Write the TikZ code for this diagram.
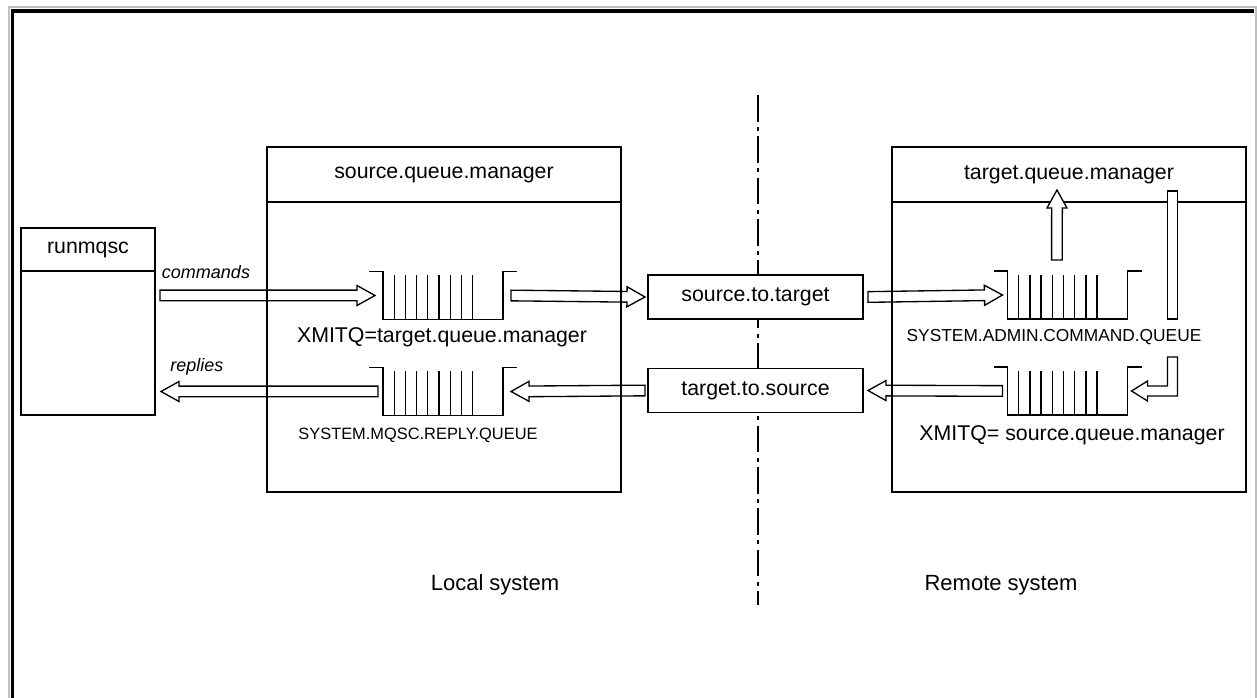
\documentclass[tikz,border=0pt]{standalone}
\usepackage{fontspec}
\setmainfont{Liberation Sans}
\usetikzlibrary{calc,positioning}

\tikzset{every picture/.style={line width=1pt}}
\tikzset{
	hdr/.style={draw, fill=white, inner sep=0pt, outer sep=0pt, font=\fontsize{16}{19}\selectfont},
	body/.style={draw, fill=white, inner sep=0pt, outer sep=0pt},
	queue/.style={inner sep=0pt, outer sep=0pt, minimum width=90pt, minimum height=36pt},
	pipe/.style={draw, fill=white, inner sep=0pt, outer sep=0pt, minimum width=7.5pt, minimum height=96pt},
	lbl/.style={inner sep=0pt, font=\fontsize{16}{19}\selectfont},
	caps/.style={inner sep=0pt, font=\fontsize{13}{16}\selectfont},
	flow/.style={inner sep=0pt, font=\fontsize{13.5}{16}\selectfont\itshape},
	sys/.style={inner sep=0pt, font=\fontsize{16.5}{20}\selectfont},
	divider/.style={dash pattern=on 20pt off 4pt on 3pt off 4pt},
	fat/.style={to path={
		($(\tikztotarget)!13.5pt!(\tikztostart)$) coordinate (fathead)
		($(\tikztostart)!4pt!90:(\tikztotarget)$) -- ($(fathead)!4pt!90:(\tikztotarget)$)
		-- ($(fathead)!7.5pt!90:(\tikztotarget)$) -- (\tikztotarget)
		-- ($(fathead)!7.5pt!-90:(\tikztotarget)$) -- ($(fathead)!4pt!-90:(\tikztotarget)$)
		-- ($(\tikztostart)!4pt!-90:(\tikztotarget)$) -- cycle}}
}

% queue: lips, walls and the messages in it
\newcommand{\drawqueue}[1]{%
	\draw ([xshift=-10.5pt]#1.north west) -- (#1.north west) -- (#1.south west) -- (#1.south east) -- (#1.north east) -- ++(10.5pt,0);
	\foreach \k in {1,...,8}
		\draw ([xshift=\k*8.4pt,yshift=-3pt]#1.north west) -- ([xshift=\k*8.4pt]#1.south west);
}

\begin{document}
\begin{tikzpicture}[x=0.75pt,y=-0.75pt]
	\useasboundingbox (0,0) rectangle (1257,698);

	%Frame
	\draw[gray!50, line width=1.5] (8.5,698) -- (8.5,7.5) -- (1255.5,7.5) -- (1255.5,698);
	\draw[line width=2.5] (12.5,698) -- (12.5,11) -- (1254,11);

	%Divider between the two systems
	\draw[divider] (758,95) -- (758,605);

	%runmqsc
	\node[hdr, minimum width=100.5pt, minimum height=32.25pt] (mqschd) at (88,249.5) {runmqsc};
	\node[body, minimum width=100.5pt, minimum height=108pt, below=0pt of mqschd] (mqsc) {};

	%Queue managers
	\node[hdr, minimum width=265.5pt, minimum height=41.25pt] (srchd) at (444,174.5) {source.queue.manager};
	\node[body, minimum width=265.5pt, minimum height=217.5pt, below=0pt of srchd] (srcqm) {};
	\node[hdr, minimum width=265.5pt, minimum height=41.25pt] (tgthd) at (1069,174.5) {target.queue.manager};
	\node[body, minimum width=265.5pt, minimum height=217.5pt, below=0pt of tgthd] (tgtqm) {};

	%Channels
	\node[hdr, minimum width=161.25pt, minimum height=33pt] (s2t) at (755.5,297) {source.to.target};
	\node[hdr, minimum width=161.25pt, minimum height=33pt] (t2s) at (755.5,390.5) {target.to.source};

	%Queues
	\node[queue] (xmitq) at (443,295.5) {};
	\node[queue] (replyq) at (443,391.5) {};
	\node[queue] (cmdq) at (1067.5,295) {};
	\node[queue] (srcxq) at (1067.5,391) {};
	\drawqueue{xmitq}
	\drawqueue{replyq}
	\drawqueue{cmdq}
	\drawqueue{srcxq}

	% Text Node
	\node[lbl] (xmitqname) at (442,337) {XMITQ{=}target.queue.manager};
	\node[caps, font=\fontsize{12.3}{15}\selectfont] (replyqname) at (418,435) {SYSTEM.MQSC.REPLY.QUEUE};
	\node[caps] (cmdqname) at (1054,337) {SYSTEM.ADMIN.COMMAND.QUEUE};
	\node[lbl] (srcxqname) at (1072,435) {XMITQ{=} source.queue.manager};

	%Pipe back down to the transmission queue
	\node[pipe] (pipe) at (1172.5,255) {};

	%Commands
	\draw[fat] ([xshift=3.75pt]mqsc.east |- xmitq.west) to ([xshift=-6pt]xmitq.west);
	\node[flow] (cmdlbl) at (206,272) {commands};
	\draw[fat] ([xshift=6pt]xmitq.east) to ([xshift=-2.25pt]s2t.west);
	\draw[fat] ([xshift=3.75pt]s2t.east) to ([xshift=-3.75pt]cmdq.west);
	\coordinate (cmdrun) at (1057,190);
	\draw[fat, fill=white] ([xshift=-7.9pt,yshift=8.25pt]cmdq.north) to (cmdrun);

	%Replies
	\draw[fill=white] ([xshift=3pt]srcxq.east) -- ++(16,-10) -- ++(0,5) -- ++(20,0) -- ++(0,-29) -- ++(10,0) -- ++(0,39) -- ++(-30,0) -- ++(0,5) -- cycle;
	\draw[fat] ([xshift=-3.75pt]srcxq.west) to ([xshift=3.75pt]t2s.east);
	\draw[fat] ([xshift=-2.25pt]t2s.west) to ([xshift=6pt]replyq.east);
	\draw[fat] ([xshift=-3.75pt]replyq.west) to ([xshift=4.5pt]mqsc.east |- replyq.west);
	\node[flow] (replylbl) at (197,367) {replies};

	%Systems
	\node[sys] (localsys) at (495,585) {Local system};
	\node[sys] (remotesys) at (1001,585) {Remote system};

\end{tikzpicture}
\end{document}
